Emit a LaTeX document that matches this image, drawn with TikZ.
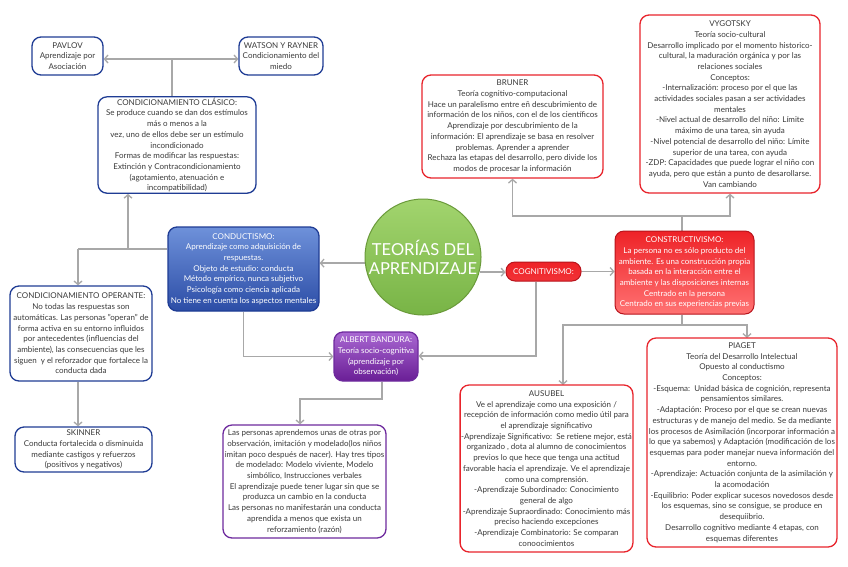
\documentclass[tikz,border=0pt]{standalone}
\usepackage{fontspec}
\setmainfont{Lato}
\usetikzlibrary{arrows.meta}
\definecolor{bluedark}{HTML}{1F3C94}
\definecolor{bluetop}{HTML}{6E91DA}
\definecolor{bluebot}{HTML}{2C4DA6}
\definecolor{redline}{HTML}{E8242C}
\definecolor{reddark}{HTML}{B8141C}
\definecolor{redtop}{HTML}{EE2227}
\definecolor{redbot}{HTML}{FF7373}
\definecolor{purpline}{HTML}{6E2A9E}
\definecolor{purptop}{HTML}{A968D2}
\definecolor{purpbot}{HTML}{6A1E96}
\definecolor{greentop}{HTML}{A2D46E}
\definecolor{greenbot}{HTML}{78B446}
\definecolor{greenline}{HTML}{6A9A3A}
\definecolor{txt}{HTML}{3A3A3A}
\definecolor{conn}{HTML}{A8A8A8}
\pgfdeclarelayer{bg}
\pgfsetlayers{bg,main}
\begin{document}
\begin{tikzpicture}[x=1pt,y=-1pt,
  box/.style={rounded corners=9pt, line width=1.3pt, fill=white, align=center, text=txt,
    font=\fontsize{8}{10.7}\selectfont, inner sep=1pt},
  bluebox/.style={box, draw=bluedark},
  redbox/.style={box, draw=redline},
  purpbox/.style={box, draw=purpline},
  link/.style={draw=conn, line width=1.3pt},
  arr/.style={link, -{Straight Barb[length=3.5pt,width=8pt]}}
]
\useasboundingbox (0,0) rectangle (848,566);

% nodes
\node[bluebox, minimum width=71, minimum height=38] (pavlov) at (67.5,56)
  {PAVLOV\\Aprendizaje por\\Asociación};
\node[bluebox, minimum width=84, minimum height=38] (watson) at (281,56)
  {WATSON Y RAYNER\\Condicionamiento del\\miedo};
\node[bluebox, minimum width=158, minimum height=96] (clasico) at (177,145)
  {CONDICIONAMIENTO CLÁSICO:\\Se produce cuando se dan dos estímulos\\más o menos a la\\vez, uno de ellos debe ser un estímulo\\incondicionado\\Formas de modificar las respuestas:\\Extinción y Contracondicionamiento\\(agotamiento, atenuación e\\incompatibilidad)};
\node[bluebox, top color=bluetop, bottom color=bluebot, text=white,
  minimum width=151, minimum height=84] (conductismo) at (243.5,269)
  {CONDUCTISMO:\\Aprendizaje como adquisición de\\respuestas.\\Objeto de estudio: conducta\\Método empírico, nunca subjetivo\\Psicología como ciencia aplicada\\No tiene en cuenta los aspectos mentales};
\node[bluebox, minimum width=142, minimum height=95] (operante) at (81,333.5)
  {CONDICIONAMIENTO OPERANTE:\\No todas las respuestas son\\automáticas. Las personas "operan" de\\forma activa en su entorno influidos\\por antecedentes (influencias del\\ambiente), las consecuencias que les\\siguen\ \ y el reforzador que fortalece la\\conducta dada};
\node[bluebox, minimum width=137, minimum height=45] (skinner) at (83.5,449.5)
  {SKINNER\\Conducta fortalecida o disminuida\\mediante castigos y refuerzos\\(positivos y negativos)};
\node[purpbox, top color=purptop, bottom color=purpbot, text=white,
  minimum width=84, minimum height=49] (bandura) at (376,356.5)
  {ALBERT BANDURA:\\Teoría socio-cognitiva\\(aprendizaje por\\observación)};
\node[purpbox, minimum width=163, minimum height=113] (bandtext) at (304.5,481.5)
  {Las personas aprendemos unas de otras por\\observación, imitación y modelado(los niños\\imitan poco después de nacer). Hay tres tipos\\de modelado: Modelo viviente, Modelo\\simbólico, Instrucciones verbales\\El aprendizaje puede tener lugar sin que se\\produzca un cambio en la conducta\\Las personas no manifestarán una conducta\\aprendida a menos que exista un\\reforzamiento (razón)};
\node[circle, draw=greenline, line width=1pt, top color=greentop, bottom color=greenbot,
  minimum size=116, inner sep=0, text=white, align=center,
  font=\fontsize{16.5}{19}\selectfont] (teorias) at (423,257)
  {TEORÍAS DEL\\APRENDIZAJE};
\node[box, rounded corners=9pt, draw=reddark, line width=1pt, top color=redtop, bottom color=redtop!80!redbot, text=white,
  minimum width=75, minimum height=19] (cognitivismo) at (543.5,271.5)
  {COGNITIVISMO:};
\node[box, draw=reddark, line width=1pt, top color=redtop, bottom color=redbot, text=white,
  minimum width=139, minimum height=83] (constructivismo) at (684.5,272.5)
  {CONSTRUCTIVISMO:\\La persona no es sólo producto del\\ambiente. Es una construcción propia\\basada en la interacción entre el\\ambiente y las disposiciones internas\\Centrado en la persona\\Centrado en sus experiencias previas};
\node[redbox, minimum width=181, minimum height=103] (bruner) at (512.5,126.5)
  {BRUNER\\Teoría cognitivo-computacional\\Hace un paralelismo entre eñ descubrimiento de\\información de los niños, con el de los científicos\\Aprendizaje por descubrimiento de la\\información: El aprendizaje se basa en resolver\\problemas. Aprender a aprender\\Rechaza las etapas del desarrollo, pero divide los\\modos de procesar la información};
\node[redbox, minimum width=180, minimum height=178] (vygotsky) at (730,104)
  {VYGOTSKY\\Teoría socio-cultural\\Desarrollo implicado por el momento historico-\\cultural, la maduración orgánica y por las\\relaciones sociales\\Conceptos:\\-Internalización: proceso por el que las\\actividades sociales pasan a ser actividades\\mentales\\-Nivel actual de desarrollo del niño: Límite\\máximo de una tarea, sin ayuda\\-Nivel potencial de desarrollo del niño: Límite\\superior de una tarea, con ayuda\\-ZDP: Capacidades que puede lograr el niño con\\ayuda, pero que están a punto de desarollarse.\\Van cambiando};
\node[redbox, minimum width=171, minimum height=167] (ausubel) at (546.5,468.5)
  {AUSUBEL\\Ve el aprendizaje como una exposición /\\recepción de información como medio útil para\\el aprendizaje significativo\\-Aprendizaje Significativo:\ \ Se retiene mejor, está\\organizado , dota al alumno de conocimientos\\previos lo que hece que tenga una actitud\\favorable hacia el aprendizaje. Ve el aprendizaje\\como una comprensión.\\-Aprendizaje Subordinado: Conocimiento\\general de algo\\-Aprendizaje Supraordinado: Conocimiento más\\preciso haciendo excepciones\\-Aprendizaje Combinatorio: Se comparan\\conoocimientos};
\node[redbox, minimum width=190, minimum height=209] (piaget) at (742,442.5)
  {PIAGET\\Teoría del Desarrollo Intelectual\\Opuesto al conductismo\\Conceptos:\\-Esquema:\ \ Unidad básica de cognición, representa\\pensamientos similares.\\-Adaptación: Proceso por el que se crean nuevas\\estructuras y de manejo del medio. Se da mediante\\los procesos de Asimilación (incorporar información a\\lo que ya sabemos) y Adaptación (modificación de los\\esquemas para poder manejar nueva información del\\entorno.\\-Aprendizaje: Actuación conjunta de la asimilación y\\la acomodación\\-Equilibrio: Poder explicar sucesos novedosos desde\\los esquemas, sino se consigue, se produce en\\desequiibrio.\\Desarrollo cognitivo mediante 4 etapas, con\\esquemas diferentes};

% junction coordinates
\coordinate (jc) at (172,59);
\coordinate (jl) at (128,249);
\coordinate (jo) at (78,249);
\coordinate (cb) at (536,356);
\coordinate (bj1) at (382,399);
\coordinate (bj2) at (300,399);
\coordinate (ct) at (682,216);
\coordinate (cs) at (682,325);
\coordinate (ausin) at (563,385);
\coordinate (piain) at (747,338);

\begin{pgfonlayer}{bg}
\fill[white] (0,0) rectangle (848,566);
\draw[link] (jc) -- (jc |- clasico.north);
\draw[arr] (jc) -- (jc -| pavlov.east);
\draw[arr] (jc) -- (jc -| watson.west);
\draw[link] (conductismo.west |- jl) -- (jo);
\draw[arr] (jl) -- (jl |- clasico.south);
\draw[arr] (jo) -- (jo |- operante.north);
\draw[arr] (operante.south -| jo) -- (jo |- skinner.north);
\draw[arr] (teorias.186) -- (teorias.186 -| conductismo.east);
\draw[arr] (teorias.345) -- (teorias.345 -| cognitivismo.west);
\draw[arr] (cognitivismo.east) -- (cognitivismo.east -| constructivismo.west);
\draw[arr] (cognitivismo.south -| cb) -- (cb) -- (cb -| bandura.east);
\draw[arr] (conductismo.south) |- (bandura.west);
\draw[arr] (bandura.south -| bj1) -- (bj1) -- (bj2) -- (bj2 |- bandtext.north);
\draw[link] (constructivismo.north -| ct) -- (ct);
\draw[arr] (ct) -| (bruner.south);
\draw[arr] (ct) -| (vygotsky.south);
\draw[link] (constructivismo.south -| cs) -- (cs);
\draw[arr] (cs) -| (ausin);
\draw[arr] (cs) -| (piain);
\end{pgfonlayer}
\end{tikzpicture}
\end{document}
